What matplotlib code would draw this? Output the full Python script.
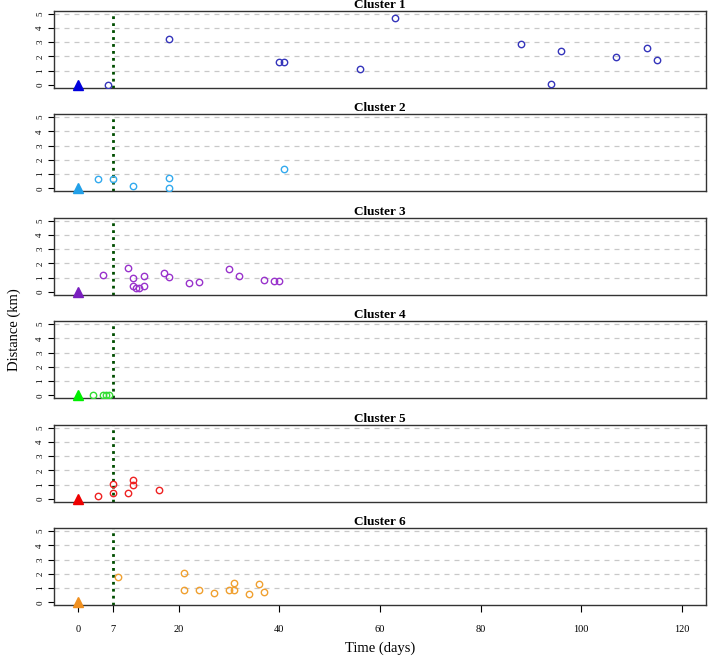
import matplotlib
matplotlib.use("Agg")
import matplotlib.pyplot as plt

plt.rcParams["font.family"] = ["Liberation Serif", "DejaVu Serif"]

# distance from index case (km) vs time since index case (days)
c1_days = [6, 18, 40, 41, 56, 63, 88, 94, 96, 107, 113, 115]
c1_dist = [0.0, 3.2, 1.57, 1.57, 1.13, 4.69, 2.86, 0.05, 2.39, 1.95, 2.56, 1.71]

c2_days = [4, 7, 11, 18, 18, 41]
c2_dist = [0.67, 0.65, 0.19, 0.76, 0.05, 1.34]

c3_days = [5, 10, 11, 11, 11.4, 12, 13, 13, 17, 18, 22, 24, 30, 32, 37, 39, 40]
c3_dist = [1.19, 1.64, 0.98, 0.42, 0.3, 0.26, 1.1, 0.42, 1.29, 1.05, 0.61, 0.72, 1.59, 1.14, 0.82, 0.75, 0.75]

c4_days = [3, 5, 5.6, 6.2]
c4_dist = [0.02, 0.02, 0.03, 0.05]

c5_days = [4, 7, 7, 10, 11, 11, 16]
c5_dist = [0.23, 1.02, 0.4, 0.44, 1.35, 0.98, 0.65]

c6_days = [8, 21, 21, 24, 27, 30, 31, 31, 34, 36, 37]
c6_dist = [1.79, 2.07, 0.86, 0.86, 0.63, 0.86, 1.33, 0.86, 0.6, 1.26, 0.74]

clusters = ["Cluster 1", "Cluster 2", "Cluster 3", "Cluster 4", "Cluster 5", "Cluster 6"]
all_days = [c1_days, c2_days, c3_days, c4_days, c5_days, c6_days]
all_dist = [c1_dist, c2_dist, c3_dist, c4_dist, c5_dist, c6_dist]
pt_colors = ["#3535bb", "#33aaee", "#9933cc", "#33dd33", "#ee2222", "#f0a030"]
tri_colors = ["#0000dd", "#22a0e8", "#7a1fbf", "#00ee00", "#ee0000", "#f09020"]

x_ticks = [0, 7, 20, 40, 60, 80, 100, 120]
y_ticks = [0, 1, 2, 3, 4, 5]

W, H = 708, 660
fig = plt.figure(figsize=(W / 100, H / 100), dpi=100)

left, right = 54, 706
ax_h = 77
for i in range(6):
    top = 10.7 + i * 103.5
    ax = fig.add_axes([left / W, 1 - (top + ax_h) / H, (right - left) / W, ax_h / H])
    ax.set_xlim(-4.8, 124.8)
    ax.set_ylim(-0.2, 5.2)
    for g in y_ticks[1:]:
        ax.axhline(g, color="#c8c8c8", lw=0.9, ls=(0, (4, 4)), zorder=1)
    ax.axvline(7, color="#004d00", lw=2, ls=(0, (1, 1.5)), zorder=2)
    ax.plot(all_days[i], all_dist[i], "o", mfc="none", mec=pt_colors[i],
            ms=4.6, mew=1.0, ls="none", zorder=3)
    ax.plot([0], [0], "^", color=tri_colors[i], ms=7.5, zorder=4, clip_on=False)
    ax.set_title(clusters[i], fontsize=9.5, fontweight="bold", pad=-1)
    ax.set_yticks(y_ticks)
    ax.set_yticklabels([str(t) for t in y_ticks], rotation=90, va="center", fontsize=6.5)
    ax.tick_params(axis="y", length=4, width=0.8, pad=3)
    for s in ax.spines.values():
        s.set_color("#333333")
        s.set_linewidth(1.0)
    if i < 5:
        ax.set_xticks([])
    else:
        ax.set_xticks(x_ticks)
        ax.set_xticklabels([str(t) for t in x_ticks], fontsize=7.5)
        ax.tick_params(axis="x", length=5, width=0.8, pad=9)

fig.text(380 / W, 1 - 648 / H, "Time (days)", ha="center", va="center", fontsize=10.5)
fig.text(14 / W, 1 - 330 / H, "Distance (km)", ha="center", va="center",
         rotation=90, fontsize=10.5)

fig.savefig("out.png", dpi=100)
